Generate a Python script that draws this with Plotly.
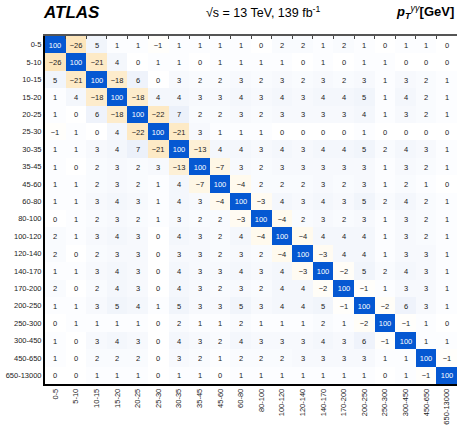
import plotly.graph_objects as go
import numpy as np

bins = ["0-5", "5-10", "10-15", "15-20", "20-25", "25-30", "30-35", "35-45", "45-60",
        "60-80", "80-100", "100-120", "120-140", "140-170", "170-200", "200-250",
        "250-300", "300-450", "450-650", "650-13000"]

corr = [
    [100, -26, 5, 1, 1, -1, 1, 1, 1, 1, 0, 2, 2, 1, 2, 1, 0, 1, 1, 0],
    [-26, 100, -21, 4, 0, 1, 1, 0, 1, 1, 1, 1, 0, 1, 0, 1, 1, 0, 0, 0],
    [5, -21, 100, -18, 6, 0, 3, 2, 2, 3, 2, 3, 2, 3, 2, 3, 1, 3, 2, 1],
    [1, 4, -18, 100, -18, 4, 4, 3, 3, 4, 3, 4, 3, 4, 4, 5, 1, 4, 2, 1],
    [1, 0, 6, -18, 100, -22, 7, 2, 2, 3, 2, 3, 3, 3, 3, 4, 1, 3, 2, 1],
    [-1, 1, 0, 4, -22, 100, -21, 3, 1, 1, 1, 0, 0, 0, 0, 1, 0, 0, 0, 0],
    [1, 1, 3, 4, 7, -21, 100, -13, 4, 4, 3, 4, 3, 4, 4, 5, 2, 4, 3, 1],
    [1, 0, 2, 3, 2, 3, -13, 100, -7, 3, 2, 3, 3, 3, 3, 3, 1, 3, 2, 1],
    [1, 1, 2, 3, 2, 1, 4, -7, 100, -4, 2, 2, 2, 3, 2, 3, 1, 2, 1, 0],
    [1, 1, 3, 4, 3, 1, 4, 3, -4, 100, -3, 4, 3, 4, 3, 5, 2, 4, 2, 1],
    [0, 1, 2, 3, 2, 1, 3, 2, 2, -3, 100, -4, 2, 3, 2, 3, 1, 3, 2, 1],
    [2, 1, 3, 4, 3, 0, 4, 3, 2, 4, -4, 100, -4, 4, 4, 4, 1, 3, 2, 1],
    [2, 0, 2, 3, 3, 0, 3, 3, 2, 3, 2, -4, 100, -3, 4, 4, 1, 3, 3, 1],
    [1, 1, 3, 4, 3, 0, 4, 3, 3, 4, 3, 4, -3, 100, -2, 5, 2, 4, 3, 1],
    [2, 0, 2, 4, 3, 0, 4, 3, 2, 3, 2, 4, 4, -2, 100, -1, 1, 3, 3, 1],
    [1, 1, 3, 5, 4, 1, 5, 3, 3, 5, 3, 4, 4, 5, -1, 100, -2, 6, 3, 1],
    [0, 1, 1, 1, 1, 0, 2, 1, 1, 2, 1, 1, 1, 2, 1, -2, 100, -1, 1, 0],
    [1, 0, 3, 4, 3, 0, 4, 3, 2, 4, 3, 3, 3, 4, 3, 6, -1, 100, 1, 1],
    [1, 0, 2, 2, 2, 0, 3, 2, 1, 2, 2, 2, 3, 3, 3, 3, 1, 1, 100, -1],
    [0, 0, 1, 1, 1, 0, 1, 1, 0, 1, 1, 1, 1, 1, 1, 1, 0, 1, -1, 100],
]

n = len(bins)
idx = list(range(n))
z = np.array(corr, dtype=float)

def fmt(v):
    v = int(v)
    return ("\u2212" + str(-v)) if v < 0 else str(v)

text_off = [[("" if i == j else fmt(v)) for j, v in enumerate(row)] for i, row in enumerate(corr)]
text_diag = [[(fmt(v) if i == j else "") for j, v in enumerate(row)] for i, row in enumerate(corr)]

off = z.copy()
diag = np.full_like(z, np.nan)
for i in range(n):
    diag[i, i] = z[i, i]
    off[i, i] = np.nan

cscale = [
    [0.0, "#f2a030"],
    [0.37, "#fde6bc"],
    [0.435, "#fdf0d6"],
    [0.465, "#fef7e6"],
    [0.48, "#fffaee"],
    [0.5, "#ffffff"],
    [0.51, "#f9fbfe"],
    [0.52, "#f4f7fc"],
    [0.535, "#ecf1fa"],
    [1.0, "#0558d2"],
]

fig = go.Figure()
fig.add_trace(go.Heatmap(
    z=off, x=idx, y=idx, text=text_off, texttemplate="%{text}",
    textfont=dict(size=7.5, color="#222222", family="Liberation Sans"),
    colorscale=cscale, zmin=-100, zmax=100, showscale=False, hoverinfo="skip"))
fig.add_trace(go.Heatmap(
    z=diag, x=idx, y=idx, text=text_diag, texttemplate="%{text}",
    textfont=dict(size=7.5, color="#ffffff", family="Liberation Sans"),
    colorscale=cscale, zmin=-100, zmax=100, showscale=False, hoverinfo="skip"))

# top axis with ticks at cell boundaries
fig.add_trace(go.Scatter(x=[-0.5], y=[-0.5], xaxis="x2", mode="markers",
                         marker=dict(opacity=0), showlegend=False, hoverinfo="skip"))

fig.update_layout(
    width=461, height=429,
    margin=dict(l=45, r=4, t=36, b=41),
    paper_bgcolor="white", plot_bgcolor="white",
    font=dict(family="Liberation Sans", color="#222222"),
    showlegend=False,
    xaxis=dict(tickvals=idx, ticktext=bins, tickangle=-90, range=[-0.5, n - 0.5],
               showgrid=False, zeroline=False, showline=True, linecolor="black",
               linewidth=1.5, ticks="", tickfont=dict(size=7.5, color="#222222")),
    xaxis2=dict(overlaying="x", side="top", range=[-0.5, n - 0.5],
                tickvals=[i - 0.5 for i in range(n + 1)], ticks="inside", ticklen=3,
                tickcolor="#444444", showticklabels=False, showgrid=False,
                zeroline=False, showline=True, linecolor="#555555", linewidth=1.5),
    yaxis=dict(tickvals=idx, ticktext=bins, range=[n - 0.5, -0.5],
               showgrid=False, zeroline=False, showline=True, linecolor="black",
               linewidth=2, ticks="", tickfont=dict(size=7.5, color="#222222")),
)

fig.add_annotation(xref="paper", yref="paper", x=-0.01, y=1.068, xanchor="left",
                   yanchor="middle", showarrow=False,
                   text="<b><i>ATLAS</i></b>", font=dict(size=17, color="black",
                   family="Liberation Sans"))
fig.add_annotation(xref="paper", yref="paper", x=0.53, y=1.068, xanchor="center",
                   yanchor="middle", showarrow=False,
                   text="\u221as = 13 TeV, 139 fb<sup>-1</sup>",
                   font=dict(size=12.5, color="black", family="Liberation Sans"))
fig.add_annotation(xref="paper", yref="paper", x=0.998, y=1.068, xanchor="right",
                   yanchor="middle", showarrow=False,
                   text="<b><i>p</i></b><sub><b><i>T</i></b></sub><sup><i>\u03b3\u03b3</i></sup><b>[GeV]</b>",
                   font=dict(size=13, color="black", family="Liberation Sans"))

fig.write_html("out.html", config={"displayModeBar": False},
               post_script="document.body.style.margin='0';")
